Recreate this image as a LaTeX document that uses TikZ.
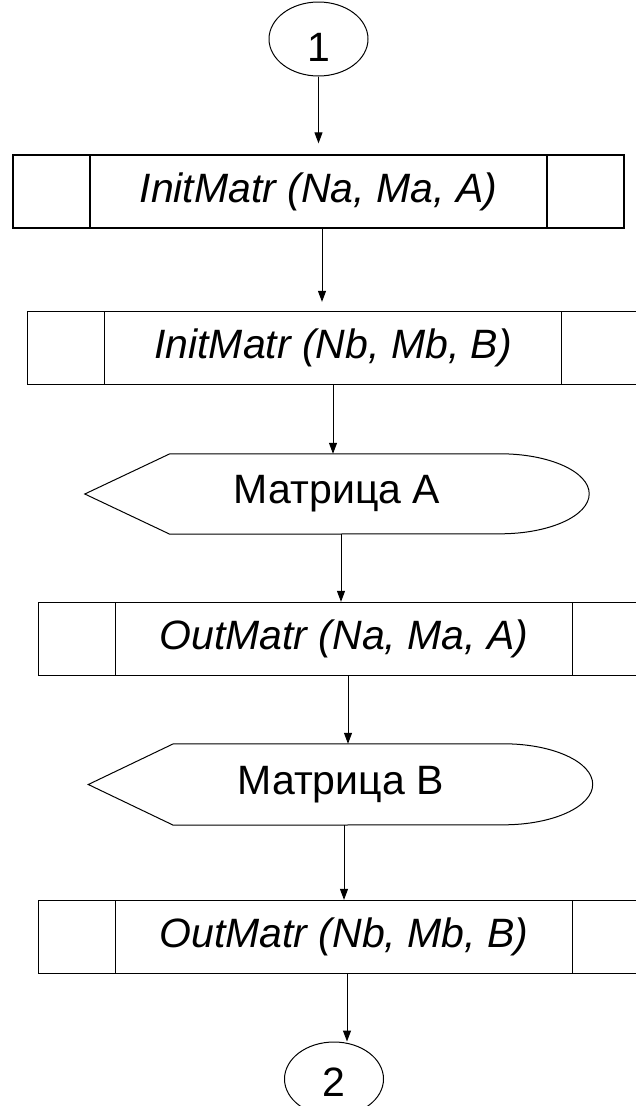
\documentclass[tikz,border=0pt]{standalone}
\usepackage{fontspec}
\setmainfont{Liberation Sans}
\usetikzlibrary{arrows.meta,shapes.geometric}
\newcommand{\flowfont}{\fontsize{41}{49}\selectfont}
\tikzset{every picture/.append style={x=1pt,y=-1pt}}

\begin{document}
\begin{tikzpicture}[
      connector/.style = {line width=1pt, -{Triangle[length=11pt,width=8pt]}},
      terminal/.style = {shape=ellipse, draw, line width=1pt, minimum width=99pt, minimum height=74pt, inner sep=0pt, text depth=0pt, font=\flowfont},
      subproc/.style = {shape=rectangle, draw, line width=1.3pt, minimum width=611pt, minimum height=73pt, inner sep=0pt, font=\flowfont\itshape,
        path picture={
          \draw[line width=1.2pt] ([xshift=77pt]path picture bounding box.north west) -- ([xshift=77pt]path picture bounding box.south west)
            ([xshift=-77pt]path picture bounding box.north east) -- ([xshift=-77pt]path picture bounding box.south east);
        }},
      display/.style = {shape=rectangle, minimum width=504pt, minimum height=80pt, inner sep=0pt, font=\flowfont},
      outline/.style = {line width=1pt}
    ]
      \useasboundingbox (0,0) rectangle (636,1106);

      \node[terminal, text height=45pt] (start) at (318.5,39) {1};
      \node[subproc] (initA) at (318.5,191.5) {InitMatr (Na, Ma, A)};
      \node[subproc] (initB) at (333,348) {InitMatr (Nb, Mb, B)};
      \node[display] (dispA) at (337,494) {Матрица A};
      \node[subproc] (outA) at (344,639) {OutMatr (Na, Ma, A)};
      \node[display, minimum height=81pt] (dispB) at (340.5,784.5) {Матрица B};
      \node[subproc] (outB) at (344,937) {OutMatr (Nb, Mb, B)};
      \node[terminal, text height=35pt] (stop) at (334,1079) {2};

      % display outlines
      \draw[outline] (dispA.west) -- ([xshift=85pt]dispA.north west) -- ([xshift=-89pt]dispA.north east)
        arc[start angle=90, end angle=-90, x radius=89pt, y radius=40pt] -- ([xshift=85pt]dispA.south west) -- cycle;
      \draw[outline] (dispB.west) -- ([xshift=85pt]dispB.north west) -- ([xshift=-89pt]dispB.north east)
        arc[start angle=90, end angle=-90, x radius=89pt, y radius=40.5pt] -- ([xshift=85pt]dispB.south west) -- cycle;

      \draw[connector, shorten >=11pt] (start.south) -- (start.south |- initA.north);
      \draw[connector, shorten >=9pt] ([xshift=3.5pt]initA.south) -- ([xshift=3.5pt]initA.south |- initB.north);
      \draw[connector] (initB.south) -- (initB.south |- dispA.north);
      \draw[connector] ([xshift=4pt]dispA.south) -- ([xshift=4pt]dispA.south |- outA.north);
      \draw[connector] ([xshift=4pt]outA.south) -- ([xshift=4pt]outA.south |- dispB.north);
      \draw[connector] (outB.north |- dispB.south) -- (outB.north);
      \draw[connector] ([xshift=3pt]outB.south) -- ([xshift=3pt]outB.south |- stop.north);
    \end{tikzpicture}
\end{document}
